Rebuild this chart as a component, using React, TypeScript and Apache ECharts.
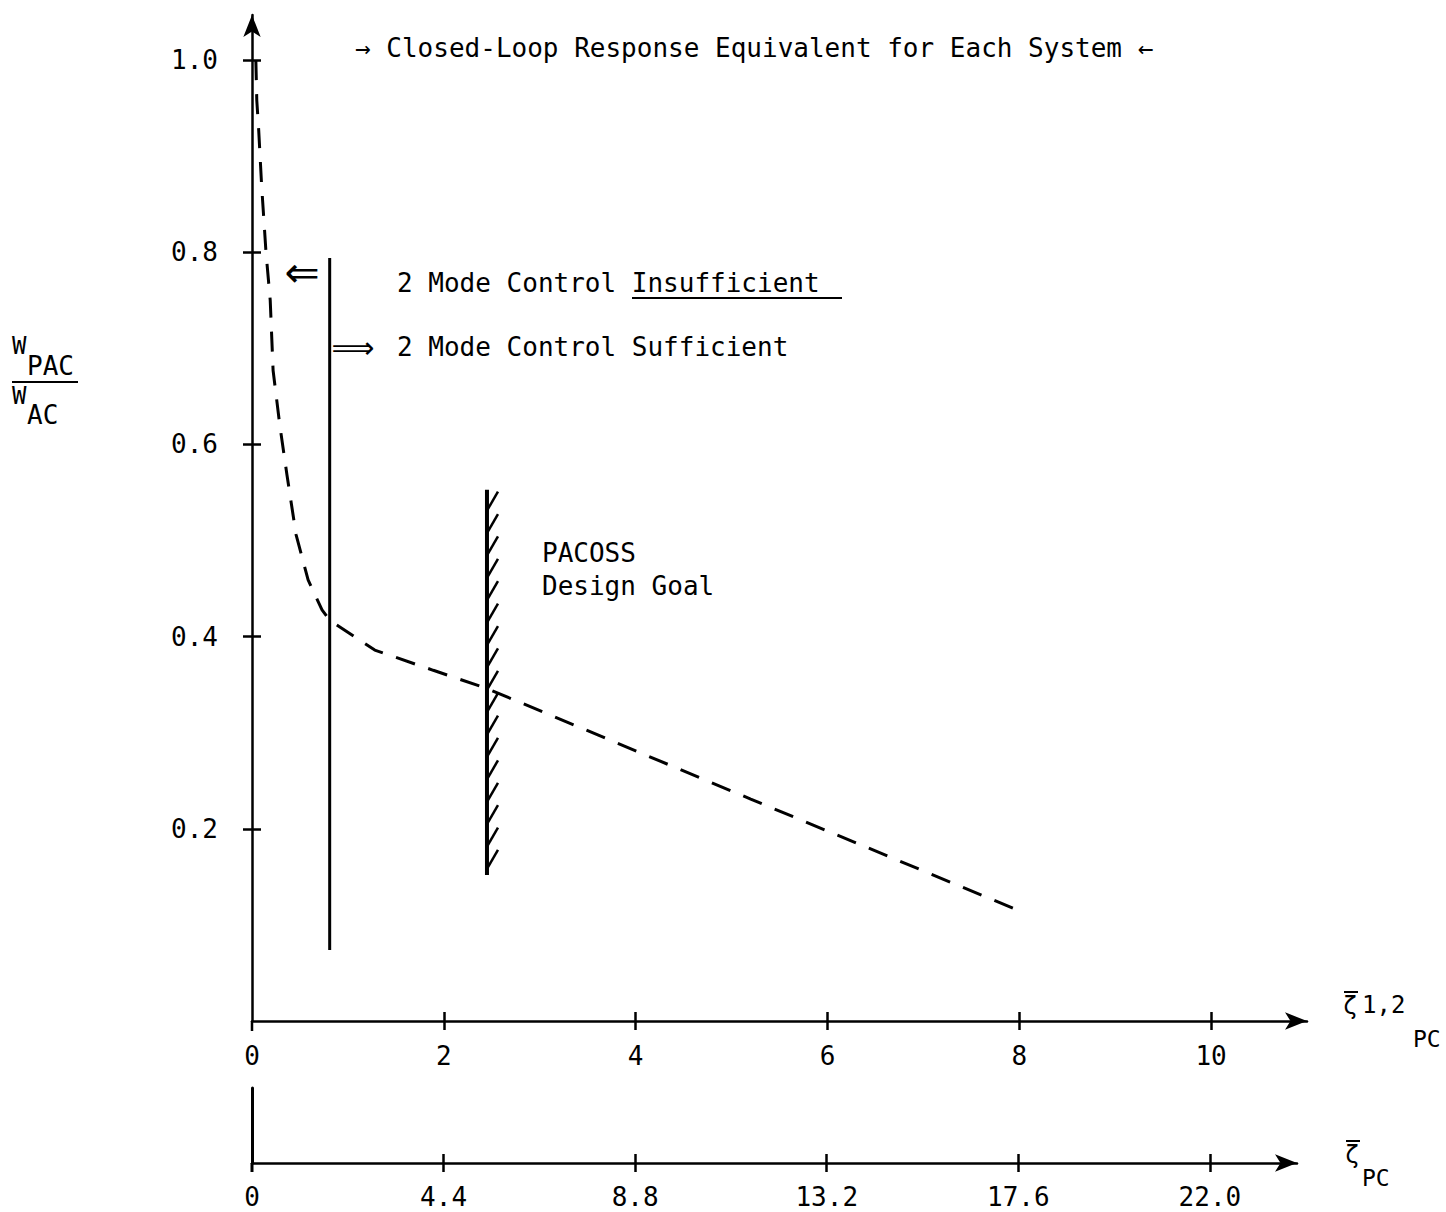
import React, { useEffect, useRef } from "react";
import * as echarts from "echarts";

// Dashed curve: W_PAC / W_AC versus zeta_1,2PC
const curveX = [0.04, 0.05, 0.07, 0.1, 0.146, 0.19, 0.22, 0.29, 0.365, 0.46, 0.585, 0.73, 0.81, 1.28, 1.89, 2.45, 5.2, 8.04];
const curveY = [1.0, 0.958, 0.927, 0.87, 0.8, 0.75, 0.677, 0.62, 0.568, 0.506, 0.459, 0.428, 0.417, 0.386, 0.365, 0.346, 0.231, 0.113];

// Vertical boundary "2 mode control" line
const boundaryX = 0.81;
const boundaryY = [0.794, 0.074];

// PACOSS design goal (hatched)
const goalX = 2.45;
const goalY = [0.553, 0.152];

// Axis ticks / labels
const xTicks = [2, 4, 6, 8, 10];
const xLabels = [0, 2, 4, 6, 8, 10];
const x2Ticks = [4.4, 8.8, 13.2, 17.6, 22.0];
const x2Labels = [0, 4.4, 8.8, 13.2, 17.6, 22.0];
const yTicks = [0.2, 0.4, 0.6, 0.8, 1.0];

const FONT = "DejaVu Sans Mono";
const BLACK = "#000";

export default function App() {
  const ref = useRef<HTMLDivElement>(null);

  useEffect(() => {
    document.body.style.margin = "0";
    if (!ref.current) return;
    const chart = echarts.init(ref.current, null, { renderer: "svg" });

    const labelStyle = { fontFamily: FONT, fontSize: 26, color: BLACK };
    const axisLineStyle = { color: BLACK, width: 2.5 };

    const option: any = {
      animation: false,
      backgroundColor: "#fff",
      grid: [
        { left: 252, top: 15, width: 1055, height: 1006, outerBoundsMode: "none" },
        { left: 252, top: 1088, width: 1045, height: 75, outerBoundsMode: "none" },
      ],
      xAxis: [
        {
          gridIndex: 0, type: "value", min: 0, max: 11, position: "bottom",
          axisLine: { show: true, symbol: ["none", "arrow"], symbolSize: [13, 22], lineStyle: axisLineStyle },
          axisTick: { show: true, length: 9, customValues: xTicks, lineStyle: axisLineStyle },
          axisLabel: { show: true, customValues: xLabels, margin: 22, ...labelStyle, formatter: (v: number) => String(v) },
          splitLine: { show: false },
        },
        {
          gridIndex: 0, type: "value", min: 0, max: 11, position: "bottom",
          axisLine: { show: false },
          axisTick: { show: true, inside: true, length: 9, customValues: xTicks, lineStyle: axisLineStyle },
          axisLabel: { show: false },
          splitLine: { show: false },
        },
        {
          gridIndex: 1, type: "value", min: 0, max: 24, position: "bottom",
          axisLine: { show: true, symbol: ["none", "arrow"], symbolSize: [13, 22], lineStyle: axisLineStyle },
          axisTick: { show: true, length: 9, customValues: x2Ticks, lineStyle: axisLineStyle },
          axisLabel: {
            show: true, customValues: x2Labels, margin: 22, lineHeight: 24, ...labelStyle,
            formatter: (v: number) => (v === 0 ? "0" : v.toFixed(1)),
          },
          splitLine: { show: false },
        },
        {
          gridIndex: 1, type: "value", min: 0, max: 24, position: "bottom",
          axisLine: { show: false },
          axisTick: { show: true, inside: true, length: 9, customValues: x2Ticks, lineStyle: axisLineStyle },
          axisLabel: { show: false },
          splitLine: { show: false },
        },
      ],
      yAxis: [
        {
          gridIndex: 0, type: "value", min: 0, max: 1.047, position: "left",
          axisLine: { show: true, symbol: ["none", "arrow"], symbolSize: [13, 22], lineStyle: axisLineStyle },
          axisTick: { show: true, length: 9, customValues: yTicks, lineStyle: axisLineStyle },
          axisLabel: { show: true, customValues: yTicks, margin: 34, ...labelStyle, formatter: (v: number) => v.toFixed(1) },
          splitLine: { show: false },
        },
        {
          gridIndex: 0, type: "value", min: 0, max: 1.047, position: "left",
          axisLine: { show: false },
          axisTick: { show: true, inside: true, length: 9, customValues: yTicks, lineStyle: axisLineStyle },
          axisLabel: { show: false },
          splitLine: { show: false },
        },
        {
          gridIndex: 1, type: "value", min: 0, max: 1, position: "left",
          axisLine: { show: true, lineStyle: { color: BLACK, width: 3 } },
          axisTick: { show: false },
          axisLabel: { show: false },
          splitLine: { show: false },
        },
      ],
      series: [
        {
          type: "line", xAxisIndex: 0, yAxisIndex: 0,
          data: curveX.map((x, i) => [x, curveY[i]]),
          showSymbol: false, smooth: false,
          lineStyle: { color: BLACK, width: 3, type: [20, 14] },
          z: 3,
        },
        {
          type: "line", xAxisIndex: 0, yAxisIndex: 0,
          data: boundaryY.map((y) => [boundaryX, y]),
          showSymbol: false,
          lineStyle: { color: BLACK, width: 3 },
          z: 4,
        },
        {
          type: "custom", xAxisIndex: 0, yAxisIndex: 0,
          data: [[goalX, goalY[0], goalY[1]]],
          z: 4,
          renderItem: (params: any, api: any) => {
            const top = api.coord([api.value(0), api.value(1)]);
            const bot = api.coord([api.value(0), api.value(2)]);
            const children: any[] = [
              {
                type: "line",
                shape: { x1: top[0], y1: top[1], x2: bot[0], y2: bot[1] },
                style: { stroke: BLACK, lineWidth: 4 },
              },
            ];
            const yStart = bot[1] - 6;
            const yEnd = top[1] + 21;
            const n = 17;
            const step = (yStart - yEnd) / (n - 1);
            for (let i = 0; i < n; i++) {
              const y = yStart - i * step;
              children.push({
                type: "line",
                shape: { x1: top[0], y1: y, x2: top[0] + 11, y2: y - 19 },
                style: { stroke: BLACK, lineWidth: 2.5 },
              });
            }
            return { type: "group", children };
          },
        },
      ],
      graphic: [
        // axis extensions below the x-axes
        { type: "line", shape: { x1: 252, y1: 1021, x2: 252, y2: 1031 }, style: { stroke: BLACK, lineWidth: 2.5 } },
        { type: "line", shape: { x1: 252, y1: 1163, x2: 252, y2: 1172 }, style: { stroke: BLACK, lineWidth: 3 } },
        // title
        {
          type: "text", left: 355, top: 35,
          style: { text: "→ Closed-Loop Response Equivalent for Each System ←", font: `26px "${FONT}"`, fill: BLACK },
        },
        // y-axis title (fraction)
        { type: "text", x: 12, y: 346, style: { text: "W", font: `24px "${FONT}"`, fill: BLACK, verticalAlign: "middle" } },
        { type: "text", x: 27, y: 366, style: { text: "PAC", font: `26px "${FONT}"`, fill: BLACK, verticalAlign: "middle" } },
        { type: "line", shape: { x1: 12, y1: 382, x2: 78, y2: 382 }, style: { stroke: BLACK, lineWidth: 2 } },
        { type: "text", x: 12, y: 396, style: { text: "W", font: `24px "${FONT}"`, fill: BLACK, verticalAlign: "middle" } },
        { type: "text", x: 27, y: 415, style: { text: "AC", font: `26px "${FONT}"`, fill: BLACK, verticalAlign: "middle" } },
        // right axis labels
        { type: "line", shape: { x1: 1344, y1: 992, x2: 1358, y2: 992 }, style: { stroke: BLACK, lineWidth: 2 } },
        { type: "text", x: 1343, y: 1006, style: { text: "ζ", font: `24px "${FONT}"`, fill: BLACK, verticalAlign: "middle" } },
        { type: "text", x: 1362, y: 1005, style: { text: "1,2", font: `24px "${FONT}"`, fill: BLACK, verticalAlign: "middle" } },
        { type: "text", x: 1413, y: 1039, style: { text: "PC", font: `23px "${FONT}"`, fill: BLACK, verticalAlign: "middle" } },
        { type: "line", shape: { x1: 1346, y1: 1141, x2: 1360, y2: 1141 }, style: { stroke: BLACK, lineWidth: 2 } },
        { type: "text", x: 1345, y: 1155, style: { text: "ζ", font: `24px "${FONT}"`, fill: BLACK, verticalAlign: "middle" } },
        { type: "text", x: 1362, y: 1178, style: { text: "PC", font: `23px "${FONT}"`, fill: BLACK, verticalAlign: "middle" } },
        // annotations
        { type: "text", x: 302, y: 272, style: { text: "⇐", font: `42px "DejaVu Sans"`, fill: BLACK, align: "center", verticalAlign: "middle" } },
        { type: "text", x: 353, y: 347, style: { text: "⟹", font: `30px "DejaVu Sans"`, fill: BLACK, align: "center", verticalAlign: "middle" } },
        { type: "text", x: 397, y: 283, style: { text: "2 Mode Control Insufficient", font: `26px "${FONT}"`, fill: BLACK, verticalAlign: "middle" } },
        { type: "line", shape: { x1: 632, y1: 298, x2: 842, y2: 298 }, style: { stroke: BLACK, lineWidth: 2 } },
        { type: "text", x: 397, y: 347, style: { text: "2 Mode Control Sufficient", font: `26px "${FONT}"`, fill: BLACK, verticalAlign: "middle" } },
        { type: "text", x: 542, y: 553, style: { text: "PACOSS", font: `26px "${FONT}"`, fill: BLACK, verticalAlign: "middle" } },
        { type: "text", x: 542, y: 586, style: { text: "Design Goal", font: `26px "${FONT}"`, fill: BLACK, verticalAlign: "middle" } },
      ],
    };

    chart.setOption(option);
    return () => chart.dispose();
  }, []);

  return <div ref={ref} style={{ width: 1446, height: 1212, background: "#fff" }} />;
}
